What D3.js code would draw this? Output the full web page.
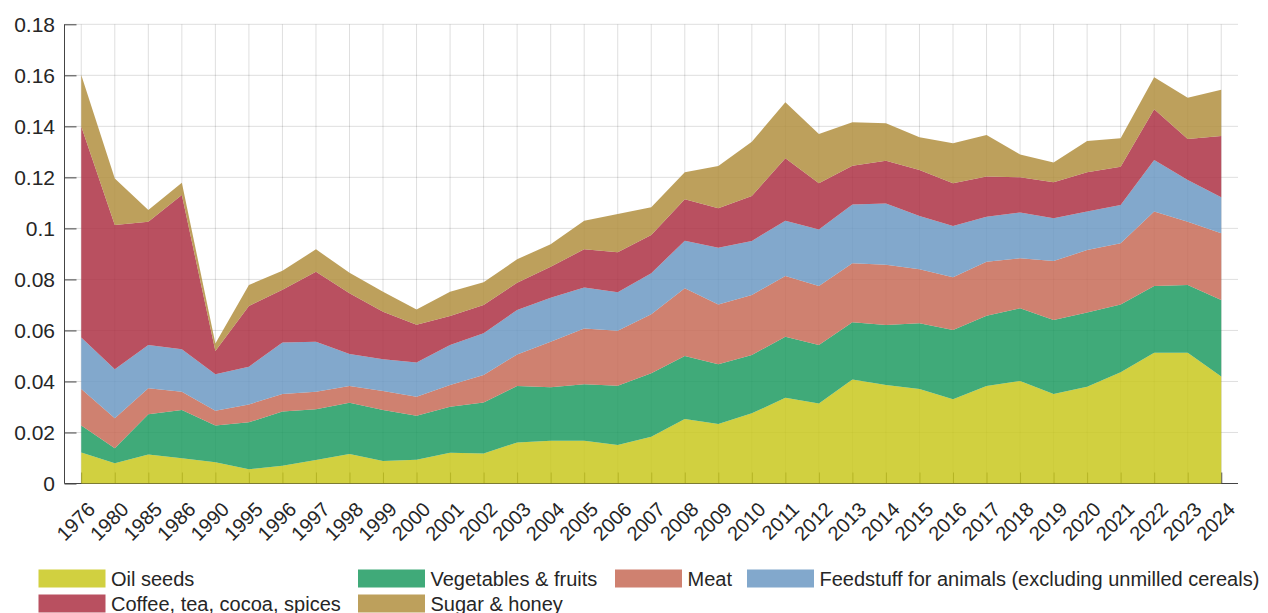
<!DOCTYPE html>
<html>
<head>
<meta charset="utf-8">
<script src="https://cdn.jsdelivr.net/npm/d3@7"></script>
<style>
  body { margin: 0; background: #fff; }
  text { font-family: "Liberation Sans", Arial, sans-serif; fill: #262626; }
</style>
</head>
<body>
<div id="chart"></div>
<script>
// categories (x axis)
var years = ["1976", "1980", "1985", "1986", "1990", "1995", "1996", "1997", "1998", "1999",
    "2000", "2001", "2002", "2003", "2004", "2005", "2006", "2007", "2008", "2009",
    "2010", "2011", "2012", "2013", "2014", "2015", "2016", "2017", "2018", "2019",
    "2020", "2021", "2022", "2023", "2024"];

// series values
var oilSeeds = [0.0122, 0.0079, 0.0114, 0.0099, 0.0083, 0.0056, 0.0070, 0.0092, 0.0116, 0.0088,
    0.0093, 0.0121, 0.0118, 0.0161, 0.0168, 0.0168, 0.0151, 0.0183, 0.0253, 0.0233,
    0.0275, 0.0336, 0.0314, 0.0408, 0.0386, 0.0370, 0.0330, 0.0382, 0.0402, 0.0351,
    0.0379, 0.0436, 0.0513, 0.0513, 0.0419];
var vegFruits = [0.0105, 0.0059, 0.0157, 0.0189, 0.0144, 0.0184, 0.0212, 0.0199, 0.0201, 0.0200,
    0.0173, 0.0180, 0.0200, 0.0221, 0.0209, 0.0221, 0.0232, 0.0249, 0.0247, 0.0234,
    0.0229, 0.0239, 0.0229, 0.0224, 0.0235, 0.0258, 0.0272, 0.0276, 0.0285, 0.0290,
    0.0291, 0.0266, 0.0261, 0.0265, 0.0300];
var meat = [0.0143, 0.0118, 0.0102, 0.0072, 0.0058, 0.0070, 0.0069, 0.0069, 0.0065, 0.0075,
    0.0074, 0.0085, 0.0107, 0.0124, 0.0179, 0.0219, 0.0216, 0.0231, 0.0265, 0.0235,
    0.0235, 0.0238, 0.0231, 0.0231, 0.0236, 0.0212, 0.0206, 0.0211, 0.0196, 0.0231,
    0.0245, 0.0240, 0.0292, 0.0248, 0.0262];
var feedstuff = [0.0202, 0.0192, 0.0170, 0.0166, 0.0143, 0.0148, 0.0202, 0.0196, 0.0126, 0.0124,
    0.0134, 0.0157, 0.0164, 0.0174, 0.0172, 0.0160, 0.0151, 0.0161, 0.0187, 0.0222,
    0.0212, 0.0217, 0.0222, 0.0231, 0.0241, 0.0209, 0.0201, 0.0177, 0.0179, 0.0168,
    0.0151, 0.0150, 0.0202, 0.0164, 0.0141];
var coffee = [0.0827, 0.0565, 0.0483, 0.0605, 0.0091, 0.0238, 0.0206, 0.0274, 0.0238, 0.0186,
    0.0148, 0.0114, 0.0111, 0.0107, 0.0122, 0.0150, 0.0156, 0.0150, 0.0162, 0.0155,
    0.0176, 0.0245, 0.0181, 0.0152, 0.0167, 0.0180, 0.0168, 0.0157, 0.0138, 0.0141,
    0.0154, 0.0150, 0.0199, 0.0160, 0.0240];
var sugar = [0.0202, 0.0183, 0.0046, 0.0048, 0.0030, 0.0082, 0.0075, 0.0088, 0.0080, 0.0079,
    0.0060, 0.0095, 0.0089, 0.0092, 0.0088, 0.0112, 0.0150, 0.0109, 0.0106, 0.0166,
    0.0213, 0.0219, 0.0193, 0.0170, 0.0147, 0.0128, 0.0157, 0.0163, 0.0090, 0.0077,
    0.0123, 0.0111, 0.0125, 0.0162, 0.0181];

var seriesNames = ["Oil seeds", "Vegetables & fruits", "Meat",
    "Feedstuff for animals (excluding unmilled cereals)", "Coffee, tea, cocoa, spices", "Sugar & honey"];
var seriesValues = [oilSeeds, vegFruits, meat, feedstuff, coffee, sugar];
var seriesColors = ["#c9c81e", "#1e9b62", "#c76b57", "#6c99c3", "#ad3144", "#b28f3f"];

var yTicks = [0, 0.02, 0.04, 0.06, 0.08, 0.1, 0.12, 0.14, 0.16, 0.18];

// set the dimensions and margins of the graph
var W = 1268, H = 613;
var plotLeft = 64.5, plotRight = 1238, plotTop = 24.3, plotBottom = 483.5;

var svg = d3.select("#chart")
    .append("svg")
    .attr("width", W)
    .attr("height", H);

// build rows for d3.stack
var data = years.map(function (yr, i) {
    var row = { year: yr };
    seriesNames.forEach(function (n, k) { row[n] = seriesValues[k][i]; });
    return row;
});

var x = d3.scalePoint()
    .domain(years)
    .range([plotLeft, plotRight])
    .padding(0.5);

var y = d3.scaleLinear()
    .domain([0, 0.18])
    .range([plotBottom, plotTop]);

var color = d3.scaleOrdinal()
    .domain(seriesNames)
    .range(seriesColors);

// grid
var grid = svg.append("g")
    .attr("stroke", "#262626")
    .attr("stroke-opacity", 0.15)
    .attr("stroke-width", 1);
grid.selectAll("line.h")
    .data(yTicks)
    .enter().append("line")
    .attr("x1", plotLeft).attr("x2", plotRight)
    .attr("y1", function (d) { return y(d); })
    .attr("y2", function (d) { return y(d); });
grid.selectAll("line.v")
    .data(years)
    .enter().append("line")
    .attr("x1", function (d) { return x(d); })
    .attr("x2", function (d) { return x(d); })
    .attr("y1", plotTop).attr("y2", plotBottom);

// Y axis (ticks inside)
var yAxis = svg.append("g")
    .attr("transform", "translate(" + plotLeft + ",0)")
    .call(d3.axisRight(y).tickValues(yTicks).tickSize(12).tickSizeOuter(0).tickFormat(""));
yAxis.selectAll("line, path").attr("stroke", "#444");
yAxis.select(".domain").attr("d", "M0," + plotTop + "V" + plotBottom);

svg.append("g")
    .selectAll("text")
    .data(yTicks)
    .enter().append("text")
    .attr("x", 55)
    .attr("y", function (d) { return y(d); })
    .attr("dy", "0.36em")
    .attr("text-anchor", "end")
    .style("font-size", "21px")
    .text(function (d) { return d3.format("~g")(d); });

// X axis (ticks inside)
var xAxis = svg.append("g")
    .attr("transform", "translate(0," + plotBottom + ")")
    .call(d3.axisTop(x).tickSize(11).tickSizeOuter(0).tickFormat(""));
xAxis.selectAll("line, path").attr("stroke", "#444");
xAxis.select(".domain").attr("d", "M" + plotLeft + ",0H" + plotRight);

svg.append("g")
    .selectAll("text")
    .data(years)
    .enter().append("text")
    .attr("transform", function (d) { return "translate(" + (x(d) + 10) + "," + (plotBottom + 22) + ") rotate(-45)"; })
    .attr("text-anchor", "end")
    .attr("dy", "0.36em")
    .style("font-size", "20px")
    .text(function (d) { return d; });

//stack the data
var stackedData = d3.stack()
    .keys(seriesNames)
    (data);

var area = d3.area()
    .x(function (d) { return x(d.data.year); })
    .y0(function (d) { return y(d[0]); })
    .y1(function (d) { return y(d[1]); });

svg.append("g")
    .selectAll("path")
    .data(stackedData)
    .enter().append("path")
    .attr("d", area)
    .attr("fill", function (d) { return color(d.key); })
    .attr("fill-opacity", 0.85);

// legend
var legendPos = [
    { x: 38.5, y: 569.5 }, { x: 358, y: 569.5 }, { x: 615, y: 569.5 }, { x: 747, y: 569.5 },
    { x: 38.5, y: 594.5 }, { x: 358, y: 594.5 }
];
var legend = svg.append("g")
    .selectAll("g")
    .data(seriesNames)
    .enter().append("g")
    .attr("transform", function (d, i) { return "translate(" + legendPos[i].x + "," + legendPos[i].y + ")"; });
legend.append("rect")
    .attr("width", 67)
    .attr("height", 18)
    .attr("fill", function (d) { return color(d); })
    .attr("fill-opacity", 0.85);
legend.append("text")
    .attr("x", 72.5)
    .attr("y", 9)
    .attr("dy", "0.36em")
    .style("font-size", "20px")
    .text(function (d) { return d; });
</script>
</body>
</html>
